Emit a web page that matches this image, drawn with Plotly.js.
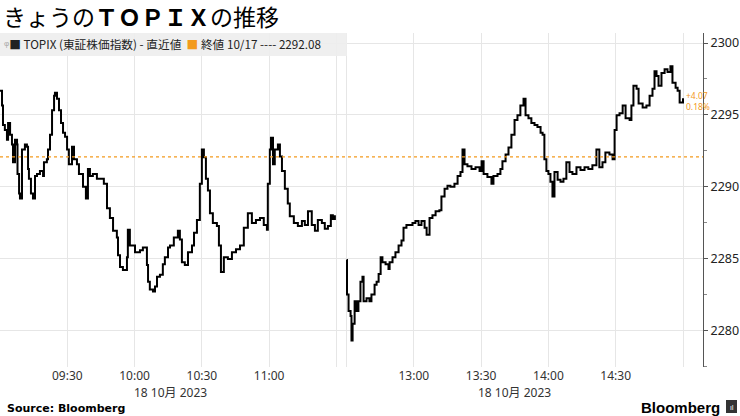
<!DOCTYPE html>
<html>
<head>
<meta charset="utf-8">
<script src="https://cdn.plot.ly/plotly-3.0.1.min.js"></script>
<style>html,body{margin:0;padding:0;background:#fff;}#chart{width:740px;height:416px;}</style>
</head>
<body>
<div id="chart"></div>
<script>
// ---- data ----
const tradeDate = "2023-10-18";
const prevClose = 2292.08;
const prevCloseLabel = "10/17";

const amTimes = ["09:00:00","09:00:54","09:01:20","09:02:10","09:03:06","09:03:36","09:04:30","09:05:20","09:05:48","09:06:42",
"09:07:36","09:07:48","09:08:30","09:08:54","09:09:48","09:11:06","09:12:00","09:12:30","09:12:54","09:13:48",
"09:14:42","09:15:36","09:16:30","09:17:48","09:19:12","09:19:36","09:20:54","09:21:24","09:22:18","09:23:12",
"09:24:06","09:24:30","09:25:24","09:26:18","09:27:12","09:28:06","09:29:00","09:29:54","09:30:42","09:32:06",
"09:33:00","09:34:18","09:35:12","09:37:00","09:38:18","09:39:12","09:40:06","09:41:24","09:43:12","09:45:54",
"09:46:18","09:47:42","09:49:00","09:50:24","09:52:06","09:52:36","09:53:30","09:54:48","09:56:36","09:57:00",
"09:57:54","10:00:12","10:02:24","10:03:42","10:05:30","10:06:00","10:06:48","10:08:12","10:09:06","10:10:00",
"10:11:18","10:12:36","10:13:30","10:14:54","10:15:48","10:17:30","10:19:18","10:20:12","10:21:06","10:22:24",
"10:23:48","10:25:36","10:26:30","10:27:48","10:29:06","10:30:00","10:30:54","10:31:48","10:32:42","10:33:36",
"10:34:54","10:36:42","10:37:36","10:38:30","10:39:48","10:41:36","10:43:24","10:45:12","10:47:00","10:48:42",
"10:50:30","10:52:18","10:54:06","10:55:54","10:57:36","10:59:00","10:59:24","11:00:18","11:00:48","11:01:42",
"11:02:30","11:03:54","11:04:48","11:05:42","11:07:00","11:08:18","11:09:12","11:11:00","11:12:48","11:14:36",
"11:15:54","11:17:18","11:19:00","11:20:24","11:21:42","11:23:30","11:24:48","11:26:12","11:27:30","11:28:24","11:29:18"];
const amValues = [2296.68,2295.66,2294.29,2293.95,2293.27,2294.43,2293.61,2292.93,2291.70,2293.27,
2292.93,2290.89,2289.52,2289.18,2292.59,2292.93,2292.79,2291.23,2290.55,2289.52,
2289.18,2290.75,2290.89,2291.09,2290.75,2291.70,2291.91,2292.59,2293.61,2295.32,
2296.34,2296.54,2296.13,2295.32,2294.43,2293.75,2293.48,2292.59,2291.57,2292.79,
2291.91,2291.57,2290.89,2290.00,2289.18,2291.23,2290.75,2290.89,2290.55,2290.55,
2290.20,2288.50,2287.82,2286.93,2286.46,2285.23,2284.41,2284.21,2285.09,2287.00,
2285.91,2285.43,2285.57,2285.77,2284.55,2283.39,2282.84,2282.71,2283.05,2283.73,
2283.87,2284.61,2285.09,2285.77,2285.91,2286.46,2286.93,2286.32,2284.75,2284.55,
2285.43,2285.91,2286.80,2287.68,2290.20,2292.59,2292.05,2290.55,2289.73,2288.16,
2287.48,2287.27,2285.91,2284.07,2285.09,2284.96,2285.43,2285.64,2285.91,2287.14,
2288.16,2287.48,2287.68,2287.82,2287.34,2287.00,2290.20,2292.59,2293.41,2291.57,
2292.59,2292.93,2292.11,2291.09,2289.86,2288.84,2287.95,2287.48,2287.27,2287.61,
2287.34,2288.30,2287.34,2286.93,2287.68,2287.48,2287.07,2287.27,2288.02,2287.75,2288.02];

const pmTimes = ["12:30:00","12:30:12","12:30:54","12:31:48","12:32:12","12:32:42","12:33:36","12:34:30","12:35:18","12:36:12",
"12:37:06","12:37:36","12:38:54","12:40:12","12:41:06","12:42:30","12:43:24","12:44:18","12:45:12","12:46:00",
"12:47:24","12:48:42","12:49:12","12:50:30","12:51:48","12:53:12","12:54:30","12:55:24","12:56:42","12:58:06",
"12:59:24","13:00:42","13:02:06","13:03:24","13:04:48","13:05:42","13:07:00","13:08:18","13:09:42","13:11:24",
"13:12:18","13:13:42","13:15:00","13:16:18","13:18:06","13:19:30","13:20:48","13:21:42","13:22:36","13:23:54",
"13:25:42","13:27:30","13:29:18","13:30:12","13:31:06","13:32:48","13:34:36","13:35:30","13:37:18","13:38:36",
"13:39:30","13:40:54","13:42:12","13:43:30","13:44:54","13:46:12","13:47:30","13:48:54","13:49:48","13:51:06",
"13:52:24","13:53:48","13:55:06","13:56:30","13:57:24","13:58:12","13:59:06","14:00:00","14:00:54","14:01:48",
"14:02:42","14:04:06","14:05:24","14:06:42","14:08:00","14:09:24","14:10:42","14:12:30","14:14:18","14:16:06",
"14:17:48","14:19:36","14:21:24","14:22:42","14:24:06","14:25:24","14:27:12","14:28:36","14:29:30","14:30:24",
"14:31:42","14:33:06","14:34:24","14:36:12","14:37:00","14:37:54","14:39:18","14:40:12","14:42:00","14:43:42",
"14:45:06","14:46:24","14:47:18","14:48:12","14:49:06","14:50:24","14:51:48","14:53:06","14:54:24","14:55:18",
"14:56:42","14:57:36","14:58:30","15:00:00"];
const pmValues = [2284.89,2282.50,2281.34,2281.00,2279.30,2280.46,2282.02,2281.34,2282.02,2283.39,
2283.73,2282.02,2282.23,2282.02,2282.50,2283.18,2283.39,2283.93,2285.09,2284.75,
2284.61,2284.27,2284.75,2285.09,2285.43,2285.91,2286.25,2287.14,2287.34,2287.34,
2287.48,2287.61,2287.34,2287.61,2287.14,2286.66,2287.82,2288.02,2288.30,2288.36,
2289.32,2289.86,2290.07,2290.00,2290.20,2290.75,2291.02,2292.59,2291.57,2291.43,
2291.23,2291.36,2291.09,2291.77,2290.89,2290.68,2290.20,2290.75,2290.89,2291.23,
2291.77,2292.25,2292.73,2293.61,2294.64,2294.98,2295.66,2296.13,2294.98,2294.77,
2294.43,2294.29,2294.16,2293.75,2293.61,2291.91,2291.09,2290.89,2290.34,2289.32,
2291.02,2290.48,2290.34,2290.55,2291.70,2291.02,2290.89,2291.36,2291.16,2291.36,
2291.23,2291.50,2292.59,2291.36,2291.70,2292.39,2292.25,2291.91,2293.95,2294.98,
2295.11,2295.66,2294.77,2294.64,2295.66,2297.02,2296.82,2295.80,2295.52,2295.66,
2296.34,2296.82,2298.04,2297.70,2297.02,2297.91,2298.18,2297.98,2298.38,2297.23,
2296.89,2296.68,2295.86,2296.15];

const tickTimes = ["09:00","09:30","10:00","10:30","11:00","11:30","12:30","13:00","13:30","14:00","14:30","15:00"];
const tickLabels = ["","09:30","10:00","10:30","11:00","","","13:00","13:30","14:00","14:30",""];
const yTicks = [2280, 2285, 2290, 2295, 2300];
const seriesName = "TOPIX (東証株価指数) - 直近値";
const titleText = "きょうの<b>ＴＯＰＩＸ</b>の推移";
const dateLabel = "18 10月 2023";
const dateLabelTimes = ["10:16", "13:45"];

// ---- build ----
const d = t => tradeDate + " " + t;
const orange = "#f39a1e";
const last = pmValues[pmValues.length - 1];
const chg = last - prevClose;
const pct = chg / prevClose * 100;
const font = "'Noto Sans', 'Noto Sans CJK JP', sans-serif";

const traces = [
  {x: amTimes.map(d), y: amValues, type: "scatter", mode: "lines", line: {color: "#000", width: 2, shape: "hv"}, hoverinfo: "skip", showlegend: false},
  {x: pmTimes.map(d), y: pmValues, type: "scatter", mode: "lines", line: {color: "#000", width: 2, shape: "hv"}, hoverinfo: "skip", showlegend: false}
];

const layout = {
  width: 740, height: 416,
  margin: {l: 0, r: 37, t: 33, b: 49},
  paper_bgcolor: "#fff", plot_bgcolor: "#fff",
  font: {family: font, color: "#222"},
  title: {text: titleText, x: 0.004, xanchor: "left", xref: "container", y: 0.957, yanchor: "middle", yref: "container",
          font: {size: 23, family: "'Noto Sans CJK JP', sans-serif", color: "#000"}},
  xaxis: {
    type: "date",
    range: [d("09:00:00"), d("15:08:55")],
    rangebreaks: [{bounds: [d("11:32:15"), d("12:27:45")]}],
    tickmode: "array", tickvals: tickTimes.map(d), ticktext: tickLabels,
    showgrid: true, gridcolor: "#e6e6e6", gridwidth: 1,
    showline: false, zeroline: false, ticks: "",
    tickfont: {size: 12, color: "#333", family: font}
  },
  yaxis: {
    side: "right", range: [2277.45, 2300.7],
    tickmode: "array", tickvals: yTicks, ticktext: yTicks.map(String),
    showgrid: true, gridcolor: "#e6e6e6",
    showline: true, linecolor: "#555", linewidth: 1,
    ticks: "outside", ticklen: 4, tickcolor: "#555",
    minor: {ticks: "outside", ticklen: 3, tickcolor: "#888", tickvals: [2277.5, 2282.5, 2287.5, 2292.5, 2297.5], showgrid: false},
    zeroline: false,
    tickfont: {size: 12.5, color: "#222", family: font}
  },
  shapes: [
    {type: "rect", xref: "paper", yref: "paper", x0: 0, x1: 347/703, y0: 1 - 23/334, y1: 1,
     fillcolor: "rgba(238,238,238,0.92)", line: {width: 0}, layer: "above"},
    {type: "line", xref: "paper", yref: "y", x0: 0, x1: 1, y0: prevClose, y1: prevClose,
     line: {color: orange, width: 1.2, dash: "dot"}},
    {type: "rect", xref: "paper", yref: "paper", x0: 726/703, x1: 737/703, y0: -(400-367)/334, y1: -(413-367)/334,
     fillcolor: "#333", line: {width: 0}}
  ],
  annotations: [
    {xref: "paper", yref: "paper", x: 2/703, y: 1 - 11/334, xanchor: "left", yanchor: "middle", showarrow: false,
     text: '<span style="color:#aaa">ᵠ</span>■ TOPIX (東証株価指数) - 直近値  <span style="color:' + orange + '">■</span> 終値 ' + prevCloseLabel + ' ---- ' + prevClose.toFixed(2),
     font: {size: 11.7, color: "#222", family: "'Noto Sans CJK JP', sans-serif"}},
    {x: d(pmTimes[pmTimes.length - 1]), y: last, xref: "x", yref: "y", xanchor: "left", yanchor: "middle", showarrow: false,
     xshift: 1, yshift: -3, align: "left",
     text: (chg >= 0 ? "+" : "") + chg.toFixed(2) + "<br>" + pct.toFixed(2) + "%",
     font: {size: 8.5, color: orange, family: font}},
    {x: d(dateLabelTimes[0]), xref: "x", yref: "paper", y: -(392-367)/334, yanchor: "middle", showarrow: false,
     text: dateLabel, font: {size: 12, color: "#333", family: "'Noto Sans', 'Noto Sans CJK JP', sans-serif"}},
    {x: d(dateLabelTimes[1]), xref: "x", yref: "paper", y: -(392-367)/334, yanchor: "middle", showarrow: false,
     text: dateLabel, font: {size: 12, color: "#333", family: "'Noto Sans', 'Noto Sans CJK JP', sans-serif"}},
    {xref: "paper", yref: "paper", x: 5/703, y: -(408-367)/334, xanchor: "left", yanchor: "middle", showarrow: false,
     text: "<b>Source: Bloomberg</b>", font: {size: 11, color: "#000", family: "'DejaVu Sans', sans-serif"}},
    {xref: "paper", yref: "paper", x: 722/703, y: -(407-367)/334, xanchor: "right", yanchor: "middle", showarrow: false,
     text: "<b>Bloomberg</b>", font: {size: 15, color: "#000", family: "'Liberation Sans', Arial, sans-serif"}},
    {xref: "paper", yref: "paper", x: 731.5/703, y: -(407-367)/334, xanchor: "center", yanchor: "middle", showarrow: false,
     text: "ıl", font: {size: 7, color: "#fff", family: font}}
  ]
};

Plotly.newPlot("chart", traces, layout, {staticPlot: true, displayModeBar: false});
</script>
</body>
</html>
